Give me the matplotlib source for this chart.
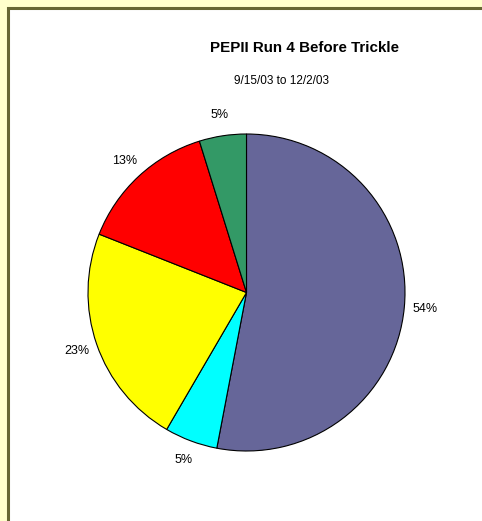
import matplotlib.pyplot as plt
import numpy as np
from matplotlib.patches import Rectangle

plt.rcParams['font.family'] = ['Liberation Sans', 'DejaVu Sans']

# slice shares and the printed labels
shares = [53.0, 5.4, 22.6, 14.2, 4.8]
labels = ["54%", "5%", "23%", "13%", "5%"]
colors = ["#666699", "#00FFFF", "#FFFF00", "#FF0000", "#339966"]

W, H = 482, 521
fig = plt.figure(figsize=(W / 100, H / 100), dpi=100)
fig.patch.set_facecolor("#FFFFCC")

# white panel with olive frame
fig.patches.append(Rectangle((8 / W, -0.1), 1.2, (H - 8) / H + 0.1,
                             transform=fig.transFigure, facecolor="white",
                             edgecolor="#666633", linewidth=2.2, zorder=-5))

fig.text(305 / W, 1 - 48.5 / H, "PEPII Run 4 Before Trickle", ha="center",
         va="center", fontsize=10.9, fontweight="bold")
fig.text(281 / W, 1 - 81.5 / H, "9/15/03 to 12/2/03", ha="center",
         va="center", fontsize=8.5)

cx, cy, r = 246.5, 292.5, 158.5
ax = fig.add_axes([(cx - r) / W, (H - cy - r) / H, 2 * r / W, 2 * r / H])
ax.set_zorder(2)
wedges, _ = ax.pie(shares, colors=colors, startangle=90, counterclock=False,
                   radius=1, wedgeprops=dict(edgecolor="black", linewidth=0.8))
ax.set_xlim(-1, 1)
ax.set_ylim(-1, 1)
ax.set_aspect("equal")
ax.axis("off")

# labels just outside the rim
for w, lab in zip(wedges, labels):
    ang = np.deg2rad((w.theta1 + w.theta2) / 2)
    ax.text(1.13 * np.cos(ang), 1.13 * np.sin(ang), lab, fontsize=9,
            ha="center", va="center", clip_on=False)

fig.savefig("out.png", dpi=100, facecolor=fig.get_facecolor())
